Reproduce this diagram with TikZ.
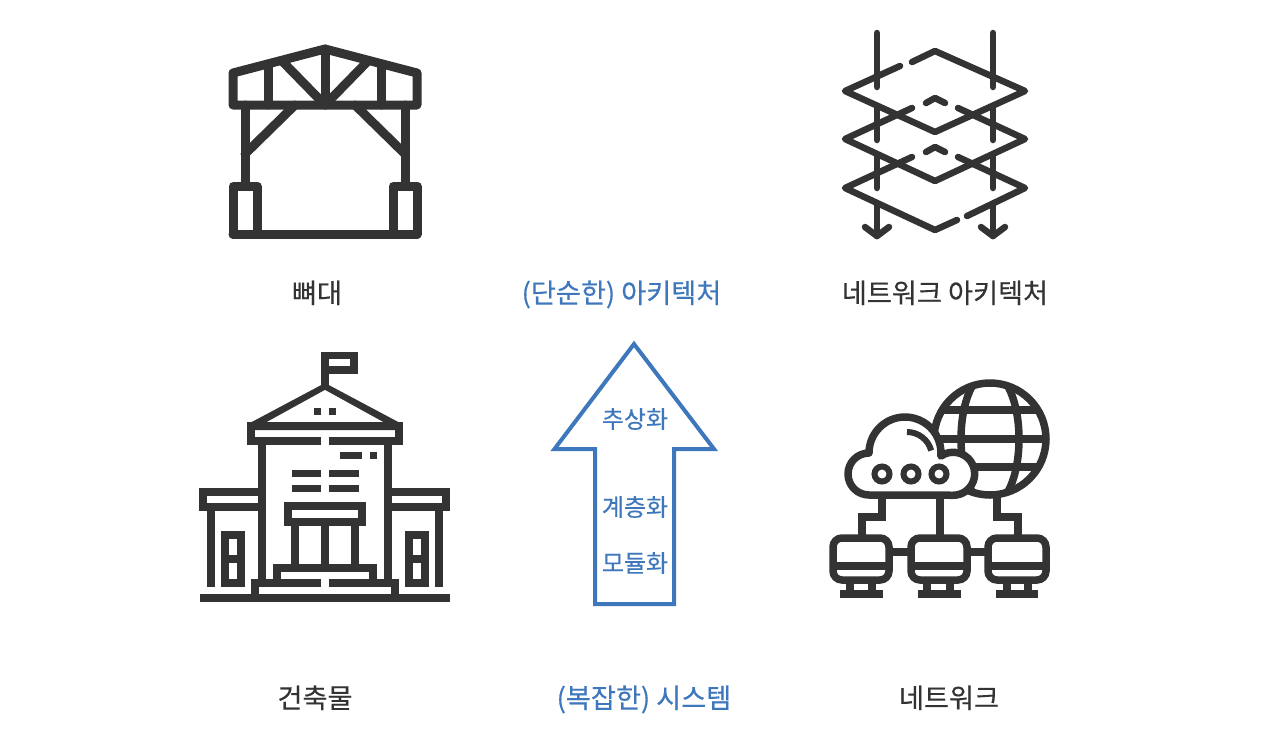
\documentclass[tikz,border=0pt]{standalone}
\usepackage{fontspec}
\newfontfamily\kr[FakeBold=0.4]{Noto Sans CJK KR}
\definecolor{ink}{HTML}{333333}
\definecolor{blu}{HTML}{3F77BD}
\tikzset{
 x=1pt,y=-1pt,
 icon/.style={draw=ink,line width=#1,fill=none},
 rnd/.style={icon=#1,line cap=round,line join=round},
 sq/.style={icon=#1,line cap=butt,line join=miter},
 lab/.style={font=\kr\fontsize{27.2}{30}\selectfont,text=ink,inner sep=0pt,anchor=center,text height=22pt,text depth=6pt},
 labb/.style={lab,text=blu},
 inlab/.style={font=\kr\fontsize{24}{26}\selectfont,text=blu,inner sep=0pt,anchor=center,text height=19pt,text depth=5pt},
}
\begin{document}
\begin{tikzpicture}
\useasboundingbox (0,0) rectangle (1270,740);
% truss
\begin{scope}[rnd=9pt]
\draw (233,105) -- (233,73) -- (325,49) -- (417,73) -- (417,105) -- cycle;
\draw (268,105) -- (268,64);
\draw (381,105) -- (381,64);
\draw (325,49) -- (325,105);
\draw (283,62) -- (325,105) -- (367,62);
\draw (245,105) -- (245,186);
\draw (405,105) -- (405,186);
\draw (245,154) -- (295,105);
\draw (405,154) -- (355,105);
\draw (233,186) rectangle (257,234);
\draw (393,186) rectangle (417,234);
\draw (233,234) -- (417,234);
\end{scope}
% layers
\begin{scope}[rnd=6.5pt]
\draw (900,66) -- (845,91) -- (935,132) -- (1025,91) -- (935,51) -- (912,62);
\draw (912,108) -- (845,139) -- (935,181) -- (1025,139) -- (958,108);
\draw (926,103) -- (935,98) -- (945,103);
\draw (912,157) -- (845,188) -- (935,230) -- (957,220);
\draw (967,216) -- (1025,188) -- (958,157);
\draw (926,152) -- (935,147) -- (945,152);
\foreach \x in {877,993}{
 \draw (\x,33) -- (\x,87);
 \draw (\x,108) -- (\x,140);
 \draw (\x,157) -- (\x,188);
 \draw (\x,205) -- (\x,236);
 \draw (\x-12,227) -- (\x,236) -- (\x+12,227);
}
\end{scope}
% building roof
\fill[ink] (248,424) -- (325,383) -- (402,424) -- (402,430) -- (248,430) -- cycle;
\fill[white] (266,422.5) -- (325,390) -- (384,422.5) -- cycle;
% building
\begin{scope}[sq=7.4pt]
\draw (325,386) -- (325,355.5) -- (354,355.5) -- (354,370) -- (325,370);
\draw (321,441) -- (251,441) -- (251,426) -- (399,426) -- (399,441) -- (329,441);
\draw (262,441) -- (262,583);
\draw (388,441) -- (388,583);
\draw (262,492) -- (203,492) -- (203,507) -- (262,507);
\draw (388,492) -- (446,492) -- (446,507) -- (388,507);
\draw (211,507) -- (211,587);
\draw (439,507) -- (439,587);
\draw (225,535) rectangle (241,583);
\draw (225,559) -- (241,559);
\draw (409,535) rectangle (425,583);
\draw (409,559) -- (425,559);
\draw (288,506) rectangle (362,522);
\foreach \x in {295,325,355} \draw (\x,522) -- (\x,568);
\draw (277,583) -- (277,568) -- (373,568) -- (373,583);
\draw (321,583) -- (255,583) -- (255,598);
\draw (329,583) -- (395,583) -- (395,598);
\draw (200,598) -- (450,598);
\draw (340,455.5) -- (362,455.5);
\draw (370,455.5) -- (377,455.5);
\draw (314,411.5) -- (321,411.5);
\draw (329,411.5) -- (336,411.5);
\draw (292,473.5) -- (321,473.5);
\draw (329,473.5) -- (359,473.5);
\draw (292,488.5) -- (321,488.5);
\draw (329,488.5) -- (359,488.5);
\end{scope}
% network
\begin{scope}[sq=7.5pt]
\draw (990,439) circle[radius=56];
\begin{scope}
\clip (990,439) circle[radius=56];
\draw (990,439) circle[x radius=29,y radius=67];
\end{scope}
\draw (942,410) -- (1038,410);
\draw (934,439) -- (1046,439);
\draw (942,467) -- (1038,467);
\draw[line join=round,fill=white] (869,495) arc[start angle=90,end angle=270,radius=21]
  arc[start angle=180,end angle=365,radius=36]
  arc[start angle=235,end angle=450,radius=21.5] -- cycle;
\draw[line width=6pt] (907,432) arc[start angle=270,end angle=345,radius=25];
\foreach \x in {882,911,939} \draw[line width=6pt] (\x,474) circle[radius=7.5];
\draw (940,495) -- (940,538);
\draw (882,495) -- (882,517) -- (862,517) -- (862,538);
\draw (997,495) -- (997,517) -- (1018,517) -- (1018,538);
\foreach \a/\b/\l/\r/\f/\g in {833/889/850/872/840/883,911/967/927/950/918/961,988/1046/1007/1028/996/1038}{
 \draw[rounded corners=9pt] (\a,538) rectangle (\b,580);
 \draw (\a,566) -- (\b,566);
 \draw (\l,580) -- (\l,594);
 \draw (\r,580) -- (\r,594);
 \draw (\f,594) -- (\g,594);
}
\draw (889,552) -- (911,552);
\draw (967,552) -- (988,552);
\end{scope}
% arrow
\draw[draw=blu,line width=4pt,line join=miter] (634,344) -- (714,449) -- (674,449) -- (674,604) -- (595,604) -- (595,449) -- (554.5,449) -- cycle;
% labels
\node[lab] (t1) at (317,295) {뼈대};
\node[labb] (t2) at (621.5,295) {(단순한) 아키텍처};
\node[lab] (t3) at (945,295) {네트워크 아키텍처};
\node[lab] (t4) at (315,700) {건축물};
\node[labb] (t5) at (644,700) {(복잡한) 시스템};
\node[lab] (t6) at (949,700) {네트워크};
\node[inlab] (a1) at (635,421) {추상화};
\node[inlab] (a2) at (635,509) {계층화};
\node[inlab] (a3) at (635,565) {모듈화};
\end{tikzpicture}
\end{document}
